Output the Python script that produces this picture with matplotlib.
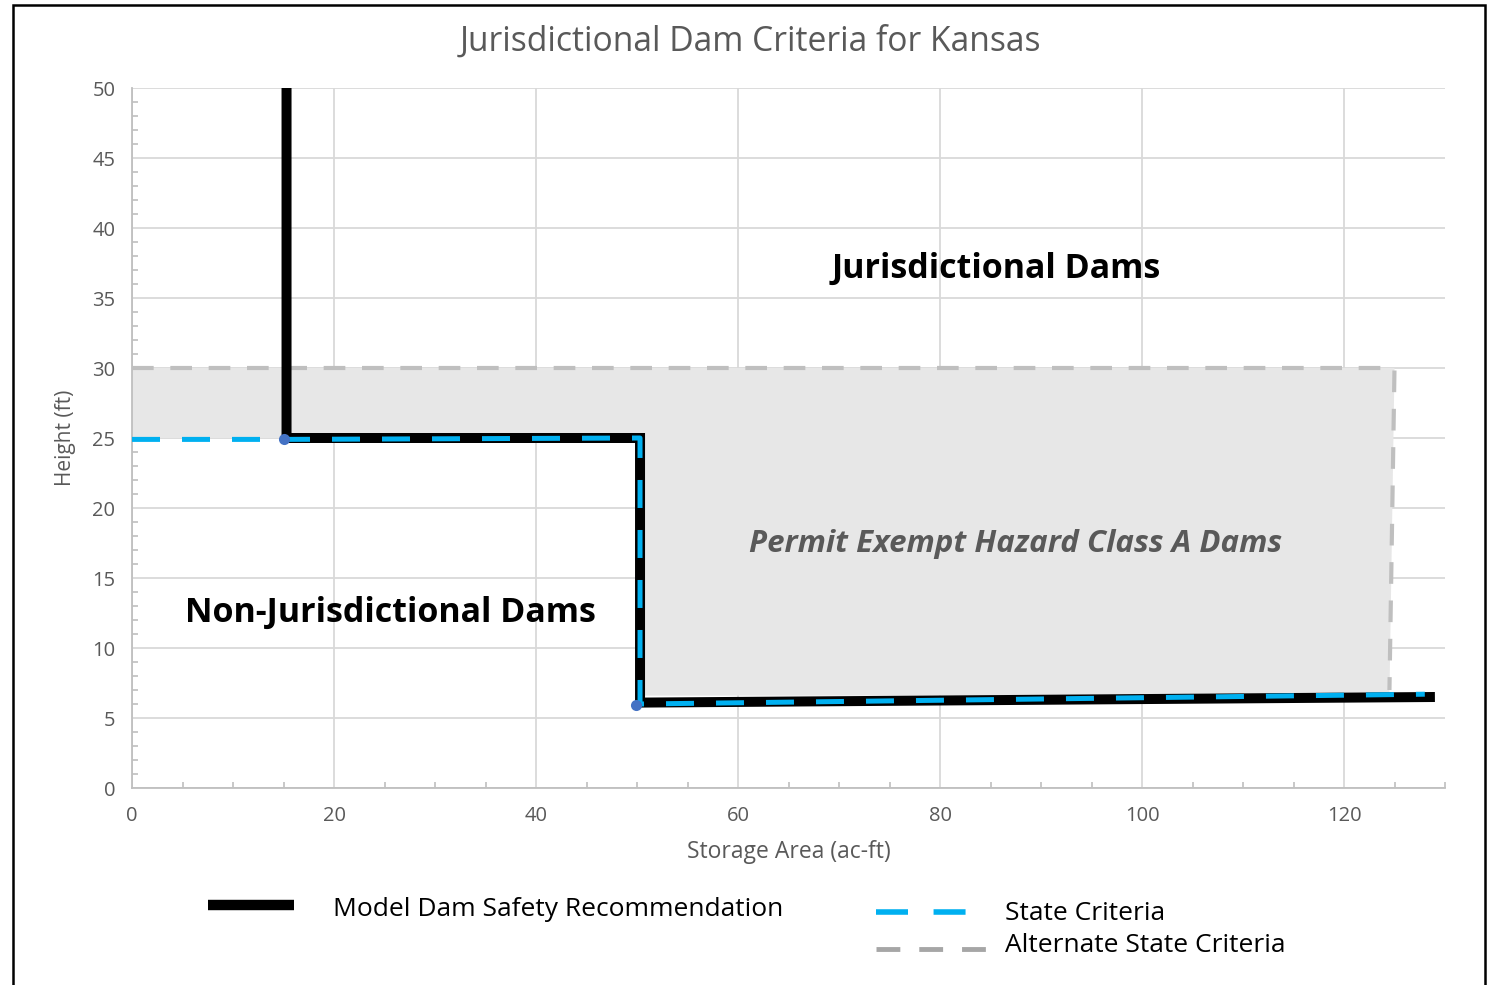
import matplotlib
matplotlib.use("Agg")
import matplotlib.pyplot as plt
from matplotlib.lines import Line2D
from matplotlib.patches import Rectangle, Polygon
import numpy as np

# ---- data ----
model_x = [15.3, 15.3, 50.3, 50.3, 129]
model_y = [50, 25, 25, 6.1, 6.5]

state_x = [0, 15, 50.3, 50.3, 128]
state_y = [24.9, 24.9, 25, 6.0, 6.7]
state_marker_x = [15, 49.9]
state_marker_y = [24.9, 5.9]

alt_x = [0, 125, 124.5]
alt_y = [30, 30, 7.0]

fill_x = [0, 125, 124.5, 50.5, 50.5, 0]
fill_y = [30, 30, 6.6, 6.6, 25, 25]

x_ticks = [0, 20, 40, 60, 80, 100, 120]
y_ticks = [0, 5, 10, 15, 20, 25, 30, 35, 40, 45, 50]

title = "Jurisdictional Dam Criteria for Kansas"
xlabel = "Storage Area (ac-ft)"
ylabel = "Height (ft)"

FONT = "Open Sans"
TXT = "#595959"
BLUE = "#00b0f0"
GRAY = "#bfbfbf"

fig = plt.figure(figsize=(14.91, 9.85), dpi=100)
ax = fig.add_axes([132/1491, 1-788/985, (1445-132)/1491, (788-88)/985])

# fill region
ax.add_patch(Polygon(np.column_stack([fill_x, fill_y]), closed=True,
                     facecolor="#e7e7e7", edgecolor="none", zorder=1))

# lines
ax.plot(alt_x, alt_y, color=GRAY, lw=3.0, dashes=(5.2, 4.0), zorder=3,
        solid_capstyle="butt", dash_capstyle="butt")
ax.plot(model_x, model_y, color="black", lw=7.2, zorder=4,
        solid_joinstyle="miter", solid_capstyle="butt")
ax.plot(state_x, state_y, color=BLUE, lw=3.6, dashes=(5.6, 4.4), zorder=5,
        dash_capstyle="butt")
ax.plot(state_marker_x, state_marker_y, 'o', color="#4472c4", ms=8, zorder=6,
        mec="none")

ax.set_xlim(0, 130)
ax.set_ylim(0, 50)
ax.set_xticks(x_ticks)
ax.set_yticks(y_ticks)
ax.set_xticks(np.arange(0, 131, 5), minor=True)
ax.set_yticks(np.arange(0, 51, 1), minor=True)
ax.grid(True, which="major", color="#d9d9d9", lw=1.3, zorder=0)
ax.set_axisbelow(True)
ax.tick_params(which="major", length=0, pad=12, labelsize=14.5, labelcolor=TXT)
ax.tick_params(which="minor", direction="in", length=4, width=1.2, color="#bfbfbf")
ax.tick_params(axis="x", which="major", pad=13)
for lab in ax.get_xticklabels() + ax.get_yticklabels():
    lab.set_fontfamily(FONT)
for s in ["top", "right"]:
    ax.spines[s].set_visible(False)
for s in ["left", "bottom"]:
    ax.spines[s].set_color("#bfbfbf")
    ax.spines[s].set_linewidth(1.3)

ax.set_xlabel(xlabel, fontsize=16.5, color=TXT, family=FONT, labelpad=10)
ax.set_ylabel(ylabel, fontsize=15, color=TXT, family=FONT, labelpad=12)

fig.text(750/1491, 1-42/985, title, ha="center", va="center", fontsize=24.2,
         color=TXT, family=FONT)

ax.text(996/1491, 1-269/985, "Jurisdictional Dams", transform=fig.transFigure,
        ha="center", va="center", fontsize=24.5, fontweight="bold", family=FONT, color="black")
ax.text(390/1491, 1-613/985, "Non-Jurisdictional Dams", transform=fig.transFigure,
        ha="center", va="center", fontsize=24.5, fontweight="bold", family=FONT, color="black")
ax.text(1016/1491, 1-544/985, "Permit Exempt Hazard Class A Dams", transform=fig.transFigure,
        ha="center", va="center", fontsize=22.5, fontweight="bold", style="italic",
        family=FONT, color=TXT, zorder=7)

# legend (manual layout)
fig.add_artist(Line2D([208/1491, 294/1491], [1-905/985]*2, color="black", lw=7.5,
                      solid_capstyle="butt"))
fig.text(333/1491, 1-909/985, "Model Dam Safety Recommendation", ha="left", va="center",
         fontsize=19, family=FONT, color="black")
fig.add_artist(Line2D([876/1491, 967/1491], [1-912/985]*2, color=BLUE, lw=4,
                      dashes=(5.76, 4.6), dash_capstyle="butt"))
fig.text(1005/1491, 1-913/985, "State Criteria", ha="left", va="center",
         fontsize=19, family=FONT, color="black")
fig.add_artist(Line2D([876/1491, 987/1491], [1-949/985]*2, color="#a6a6a6", lw=3.5,
                      dashes=(4.9, 3.9), dash_capstyle="butt"))
fig.text(1005/1491, 1-946/985, "Alternate State Criteria", ha="left", va="center",
         fontsize=19, family=FONT, color="black")

# outer border
fig.add_artist(Rectangle((13/1491, -0.05), (1485-13)/1491, 1.05-5/985,
                         transform=fig.transFigure, fill=False, edgecolor="black", lw=1.8))

fig.savefig("out.png", dpi=100)
